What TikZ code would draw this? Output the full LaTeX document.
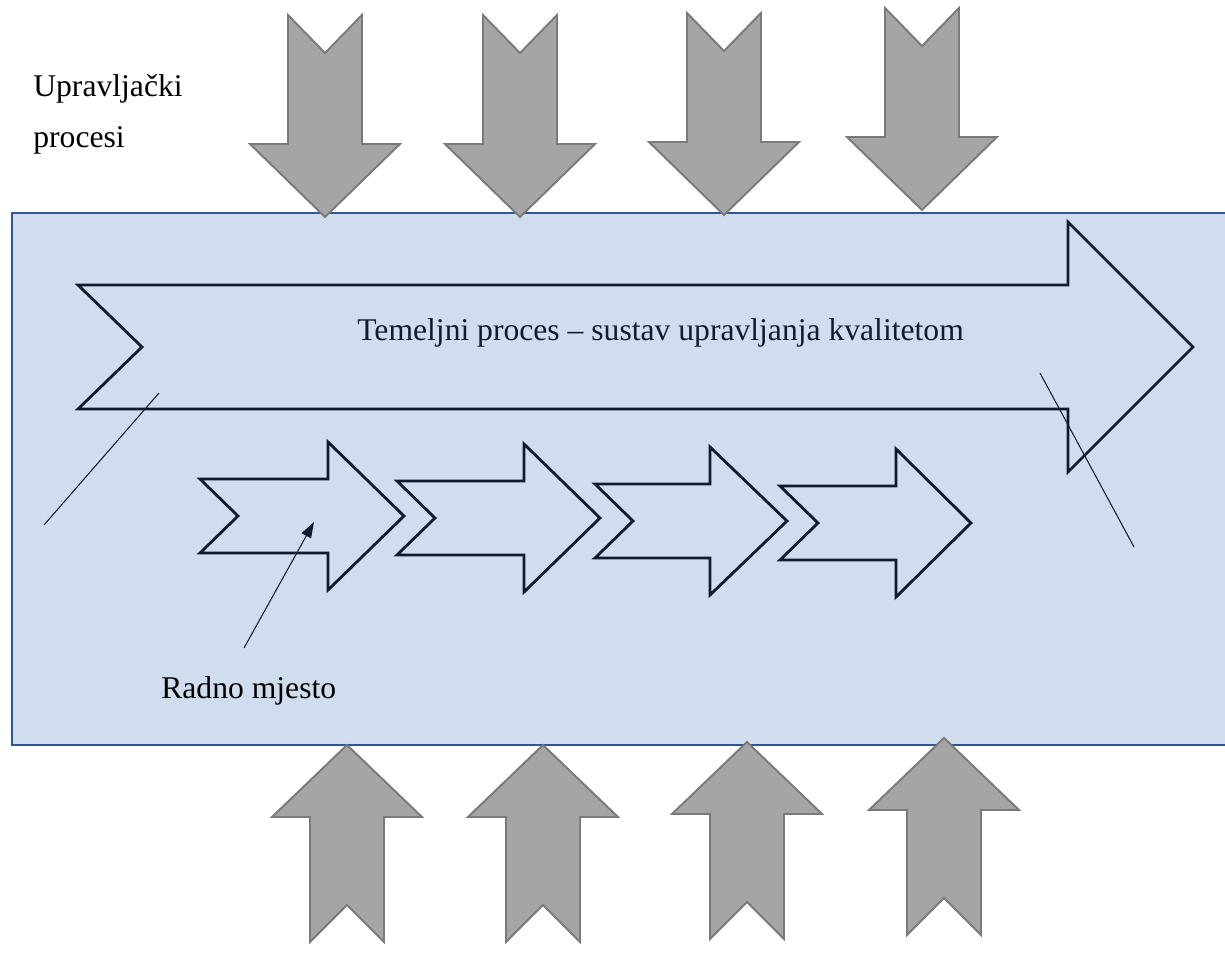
\documentclass[tikz,border=0pt]{standalone}
\usepackage{fontspec}
\setmainfont{Liberation Serif}
\usetikzlibrary{arrows.meta}
\definecolor{boxblue}{HTML}{CFDDEE}
\definecolor{boxedge}{HTML}{2F5597}
\definecolor{navy}{HTML}{101C2E}
\definecolor{flowgrey}{HTML}{A5A5A5}
\definecolor{flowedge}{HTML}{7A7A7A}

\begin{document}
\begin{tikzpicture}[x=0.02cm,y=-0.02cm,
  greyarrow/.style={fill=flowgrey,draw=flowedge,line width=1.1pt,line join=miter},
  steparrow/.style={draw=navy,line width=1.6pt,line join=miter},
  leader/.style={draw=navy,line width=0.6pt},
  lbl/.style={font=\fontsize{18}{22}\selectfont,inner sep=0pt,anchor=base west}]
\useasboundingbox (0,0) rectangle (1225,953);
% \draw[help lines,step=50] (0,0) grid (1225,953);
\draw[fill=boxblue,draw=boxedge,line width=1.2pt] (12,213) rectangle (1240,745);
%
\foreach \cx/\ty in {325/15, 520/15, 724/13, 922/8}
  \draw[greyarrow] ({\cx-37},\ty) -- (\cx,\ty+38) -- ({\cx+37},\ty) -- ({\cx+37},\ty+129)
    -- ({\cx+75},\ty+129) -- (\cx,\ty+202) -- ({\cx-75},\ty+129) -- ({\cx-37},\ty+129) -- cycle;
\foreach \cx/\ty in {347/745, 543/745, 747/742, 944/738}
  \draw[greyarrow] (\cx,\ty) -- ({\cx+75},\ty+72) -- ({\cx+37},\ty+72) -- ({\cx+37},\ty+197)
    -- (\cx,\ty+160) -- ({\cx-37},\ty+197) -- ({\cx-37},\ty+72) -- ({\cx-75},\ty+72) -- cycle;
%
\draw[steparrow] (78,285) -- (1068,285) -- (1068,222) -- (1193,347) -- (1068,472)
  -- (1068,409) -- (78,409) -- (142,347) -- cycle;
\foreach \lx/\hx/\tx/\cy in {200/328/404/516, 397/524/600/518, 595/710/787/521, 780/896/971/523}
  \draw[steparrow] (\lx,\cy-37) -- (\hx,\cy-37) -- (\hx,\cy-74) -- (\tx,\cy) -- (\hx,\cy+74)
    -- (\hx,\cy+37) -- (\lx,\cy+37) -- ({\lx+38},\cy) -- cycle;
%
\node (upr1) [lbl] at (33,97) {Upravljački};
\node (upr2) [lbl] at (33,148) {procesi};
\node (temelj) [lbl,text=navy] at (357,340) {Temeljni proces -- sustav upravljanja kvalitetom};
\node (radno) [lbl] at (161,698) {Radno mjesto};
%
\coordinate (lineAa) at (44,525);
\coordinate (lineAb) at (159,393);
\coordinate (lineBa) at (1040,373);
\coordinate (lineBb) at (1134,547);
\coordinate (ptail) at (244,648);
\coordinate (ptip) at (314,522);
\draw[leader] (lineAa) -- (lineAb);
\draw[leader] (lineBa) -- (lineBb);
\draw[leader,-{Triangle[length=9pt,width=6pt]}] (ptail) -- (ptip);
\end{tikzpicture}
\end{document}
